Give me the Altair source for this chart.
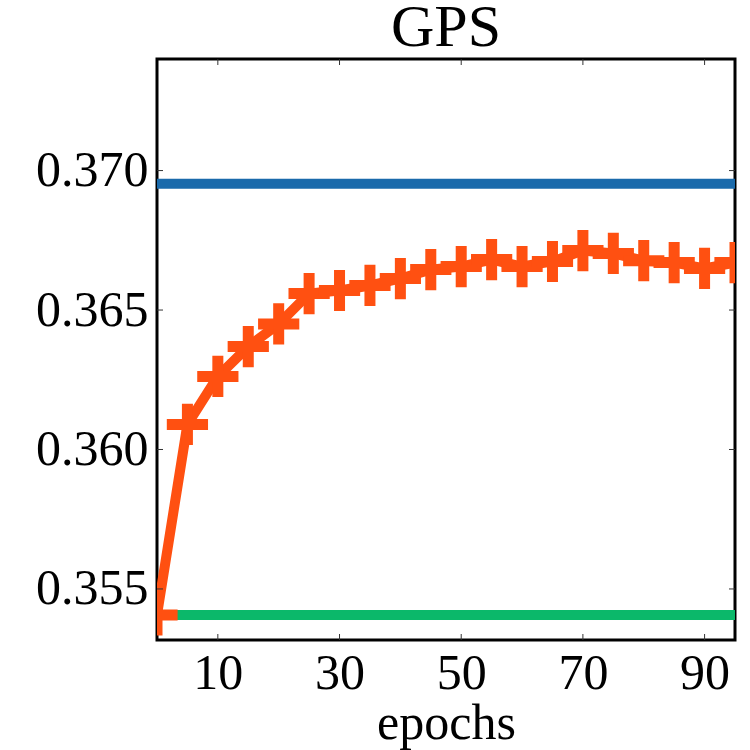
import altair as alt
import pandas as pd

# ---- data ----
epochs = [0, 5, 10, 15, 20, 25, 30, 35, 40, 45, 50, 55, 60, 65, 70, 75, 80, 85, 90, 95]
gps_curve = [0.35407, 0.3609, 0.36262, 0.36369, 0.3645, 0.36559, 0.3657, 0.36588,
             0.36613, 0.36645, 0.36656, 0.36681, 0.36656, 0.36674, 0.36713, 0.36703,
             0.36677, 0.3667, 0.36649, 0.3667]
blue_level = 0.36953
green_level = 0.35407
x_ticks = [10, 30, 50, 70, 90]
y_ticks = [0.355, 0.360, 0.365, 0.370]

X_DOMAIN = [0, 95]
Y_DOMAIN = [0.35317, 0.374]
W, H = 578, 581
FONT = "Liberation Serif"

curve_df = pd.DataFrame({"epoch": epochs, "value": gps_curve})
blue_df = pd.DataFrame({"epoch": [epochs[0], epochs[-1]], "value": [blue_level, blue_level]})
green_df = pd.DataFrame({"epoch": [epochs[0], epochs[-1]], "value": [green_level, green_level]})
xt_df = pd.DataFrame({"epoch": x_ticks})
yt_df = pd.DataFrame({"value": y_ticks})

xscale = alt.Scale(domain=X_DOMAIN, nice=False, zero=False)
yscale = alt.Scale(domain=Y_DOMAIN, nice=False, zero=False)

xaxis = alt.Axis(values=x_ticks, title="epochs", grid=False, ticks=False, domain=False,
                 labelFont=FONT, labelFontSize=50, labelColor="black", labelPadding=8,
                 titleFont=FONT, titleFontSize=50, titleFontWeight="normal", titleColor="black",
                 titleBaseline="alphabetic", titleY=98)
yaxis = alt.Axis(values=y_ticks, format=".3f", title=None, grid=False, ticks=False, domain=False,
                 labelFont=FONT, labelFontSize=50, labelColor="black", labelPadding=9)

X = alt.X("epoch:Q", scale=xscale, axis=xaxis)
Y = alt.Y("value:Q", scale=yscale, axis=yaxis)

blue = alt.Chart(blue_df).mark_line(color="#1a6aab", strokeWidth=10, clip=True).encode(x=X, y=Y)
green = alt.Chart(green_df).mark_line(color="#0bb86a", strokeWidth=10, clip=True).encode(x=X, y=Y)
orange_line = alt.Chart(curve_df).mark_line(color="#ff5011", strokeWidth=10, clip=True).encode(x=X, y=Y)
orange_pts = alt.Chart(curve_df).mark_point(
    shape="M-1,0L1,0M0,-1L0,1", size=1700, filled=False, stroke="#ff5011",
    strokeWidth=11, opacity=1, clip=True, strokeCap="butt"
).encode(x=X, y=Y)

tick_color = "#333333"
ytick_left = alt.Chart(yt_df).mark_rule(color=tick_color, strokeWidth=1).encode(
    y=Y, x=alt.value(0), x2=alt.value(6))
ytick_right = alt.Chart(yt_df).mark_rule(color=tick_color, strokeWidth=1).encode(
    y=Y, x=alt.value(W - 6), x2=alt.value(W))
xtick_bottom = alt.Chart(xt_df).mark_rule(color=tick_color, strokeWidth=1).encode(
    x=X, y=alt.value(H - 6), y2=alt.value(H))
xtick_top = alt.Chart(xt_df).mark_rule(color=tick_color, strokeWidth=1).encode(
    x=X, y=alt.value(0), y2=alt.value(6))

chart = alt.layer(
    blue, green, orange_line, orange_pts,
    ytick_left, ytick_right, xtick_bottom, xtick_top
).properties(
    width=W, height=H,
    background="white",
    title=alt.TitleParams("GPS", font=FONT, fontSize=60, fontWeight="normal", color="black",
                          anchor="middle", baseline="alphabetic", offset=10, frame="group", dy=57),
    autosize=alt.AutoSizeParams(type="none"),
    padding={"left": 157, "top": 59, "right": 15, "bottom": 110},
).configure_view(
    stroke="black", strokeWidth=3
)

chart.save("out.html", embed_options={"renderer": "svg", "actions": False})
